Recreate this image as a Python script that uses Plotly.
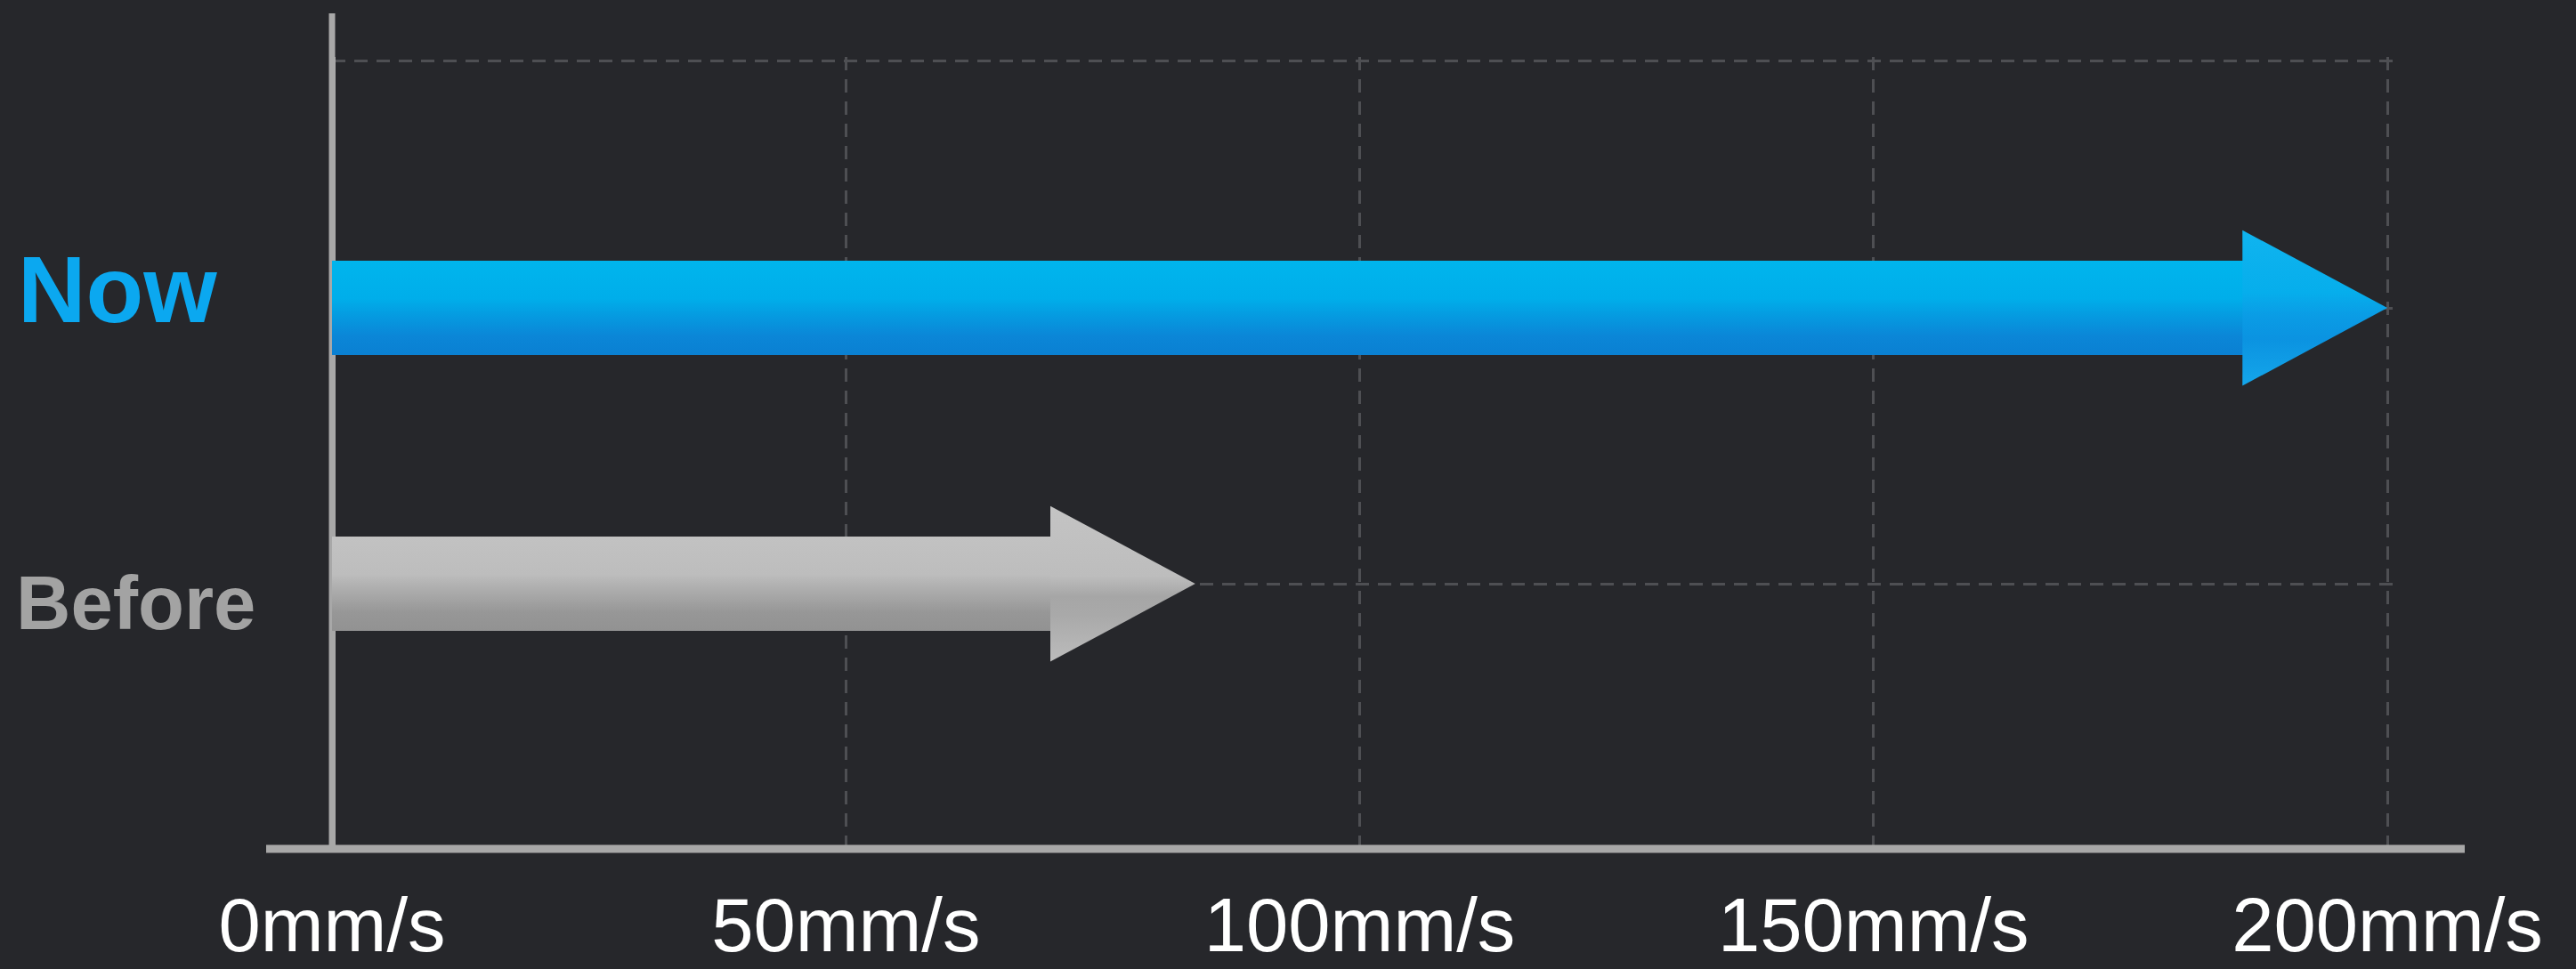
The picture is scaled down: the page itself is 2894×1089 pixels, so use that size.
import plotly.graph_objects as go

# ---- data ----
categories = ["Before", "Now"]
speeds = [84, 200]              # mm/s
tick_values = [0, 50, 100, 150, 200]
tick_labels = ["0mm/s", "50mm/s", "100mm/s", "150mm/s", "200mm/s"]

# ---- style ----
BG = "#26272b"
GRID = "#4e4f53"
AXIS = "#a8a8a8"
y_pos = {"Before": 1, "Now": 2}
TOP_GRID = 2.897
Y_RANGE = [0.0455, 2.91]
X_RANGE = [0, 200.6]
BODY_HALF = 0.171
HEAD_HALF = 0.282
HEAD_LEN = 14.1

body_scales = {
    "Now": [[0, "#0a80d2"], [0.2, "#0b86d7"], [0.45, "#049ee2"], [0.6, "#00aeea"], [1, "#00b5ed"]],
    "Before": [[0, "#929292"], [0.2, "#979797"], [0.45, "#aeaeae"], [0.6, "#bdbdbd"], [1, "#c2c2c2"]],
}
head_scales = {
    "Now": [[0, "#14a6ea"], [0.3, "#0b93e1"], [0.45, "#0a9ce5"], [0.6, "#06aeec"], [1, "#10b4ef"]],
    "Before": [[0, "#bcbcbc"], [0.3, "#a9a9a9"], [0.42, "#a6a6a6"], [0.55, "#bdbdbd"], [1, "#c4c4c4"]],
}

fig = go.Figure()
for cat, val in zip(categories, speeds):
    yc = y_pos[cat]
    neck = val - HEAD_LEN
    fig.add_trace(go.Scatter(
        x=[0, neck + 0.3, neck + 0.3, 0, 0],
        y=[yc - BODY_HALF, yc - BODY_HALF, yc + BODY_HALF, yc + BODY_HALF, yc - BODY_HALF],
        mode="lines", line=dict(width=0), fill="toself",
        fillgradient=dict(type="vertical", colorscale=body_scales[cat]),
        hoverinfo="skip", showlegend=False,
    ))
    fig.add_trace(go.Scatter(
        x=[neck, val, neck, neck],
        y=[yc - HEAD_HALF, yc, yc + HEAD_HALF, yc - HEAD_HALF],
        mode="lines", line=dict(width=0), fill="toself",
        fillgradient=dict(type="vertical", colorscale=head_scales[cat]),
        hoverinfo="skip", showlegend=False,
    ))

W, H = 2894, 1089
L, T, B = 373, 64, 137
R = 205
pw = W - L - R
ph = H - T - B

fig.add_shape(type="line", xref="paper", yref="paper", x0=0, x1=0, y0=0, y1=1 + 49 / ph,
              line=dict(color=AXIS, width=7), layer="below")
fig.add_shape(type="line", xref="paper", yref="paper",
              x0=(299 - L) / pw, x1=(2769 - L) / pw, y0=-2 / ph, y1=-2 / ph,
              line=dict(color=AXIS, width=9), layer="above")

fig.add_annotation(text="<b>Now</b>", xref="paper", yref="paper", x=(18 - L) / pw, y=(H - B - 325) / ph,
                   xanchor="left", yanchor="middle", showarrow=False,
                   font=dict(family="Liberation Sans, Arial, sans-serif", size=106, color="#0ba8f0"))
fig.add_annotation(text="<b>Before</b>", xref="paper", yref="paper", x=(16 - L) / pw, y=(H - B - 678) / ph,
                   xanchor="left", yanchor="middle", showarrow=False,
                   font=dict(family="Liberation Sans, Arial, sans-serif", size=85, color="#a3a3a3"))

fig.update_layout(
    width=W, height=H,
    margin=dict(l=L, r=R, t=T, b=B, pad=0, autoexpand=False),
    paper_bgcolor=BG, plot_bgcolor=BG,
    showlegend=False,
    xaxis=dict(range=X_RANGE, tickvals=tick_values, ticktext=tick_labels, automargin=False,
               showgrid=True, gridcolor=GRID, gridwidth=3, griddash="15px,10px",
               zeroline=True, zerolinecolor=AXIS, zerolinewidth=7,
               showline=False, ticks="", ticklabelstandoff=31,
               tickfont=dict(family="Liberation Sans, Arial, sans-serif", size=85, color="#ffffff"),
               fixedrange=True),
    yaxis=dict(range=Y_RANGE, tickvals=[1, 2, TOP_GRID], showticklabels=False, automargin=False,
               showgrid=True, gridcolor=GRID, gridwidth=3, griddash="15px,10px",
               zeroline=False, showline=False, ticks="", fixedrange=True),
)

fig.write_html("out.html", config=dict(displayModeBar=False),
               post_script="document.body.style.margin='0';document.body.style.background='%s';" % BG)
